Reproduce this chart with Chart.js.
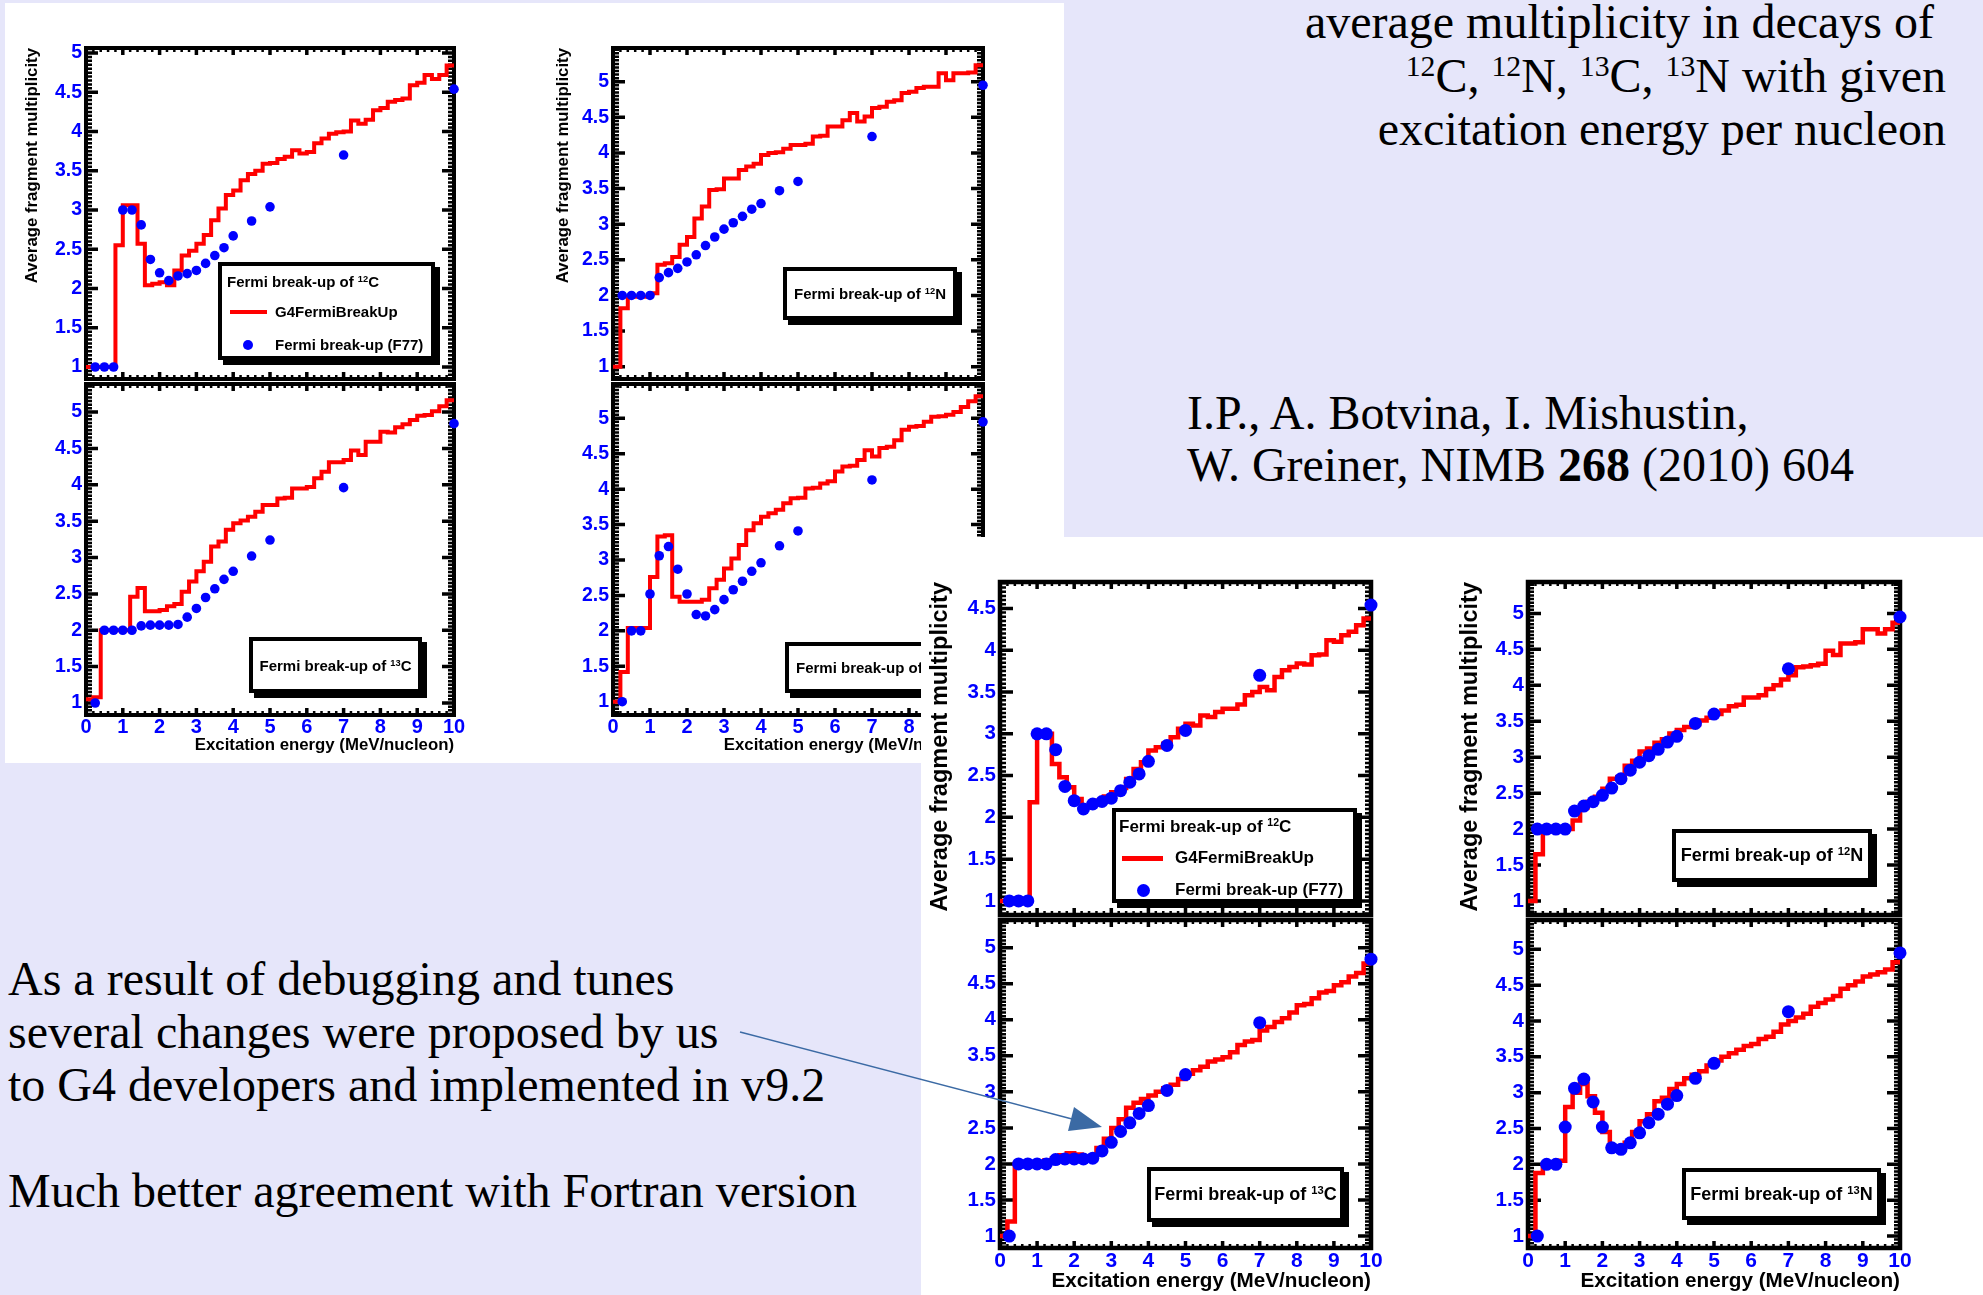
<!DOCTYPE html>
<html>
<head>
<meta charset="utf-8">
<title>Fermi break-up multiplicities</title>
<script src="https://cdn.jsdelivr.net/npm/chart.js@4.4.1/dist/chart.umd.min.js"></script>
<style>
  html, body { margin: 0; padding: 0; }
  body {
    width: 1983px; height: 1295px; overflow: hidden; position: relative;
    background: #e6e6fa; color: #000;
    font-family: 'Liberation Serif', 'Times New Roman', serif;
  }
  .sheet { position: absolute; background: #fff; }
  .sheet canvas { position: absolute; }
  .slide-text { position: absolute; font-size: 48px; white-space: nowrap; }
  .slide-text sup { font-size: 0.62em; vertical-align: 0.55em; line-height: 0; }
  .pave {
    position: absolute; box-sizing: border-box; background: #fff;
    border: 4px solid #000; box-shadow: 5px 5px 0 #000;
    font-family: 'Liberation Sans', Arial, Helvetica, sans-serif; font-weight: bold;
    white-space: nowrap;
  }
  .pave.label { display: flex; align-items: center; justify-content: center; }
  .pave sup { font-size: 0.62em; vertical-align: 0.55em; line-height: 0; }
  .pave .row { position: absolute; }
  .key-line { position: absolute; background: #ff0000; }
  .key-dot { position: absolute; background: #0000ff; border-radius: 50%; }
  #arrow { position: absolute; left: 0; top: 0; pointer-events: none; }
</style>
</head>
<body>

<div class="slide-text" style="right:37px;top:-5px;line-height:53.5px;text-align:right">
  average multiplicity in decays of&nbsp;<br>
  <sup>12</sup>C, <sup>12</sup>N, <sup>13</sup>C, <sup>13</sup>N with given<br>
  excitation energy per nucleon
</div>

<div class="slide-text" style="left:1187px;top:387px;line-height:52px">
  I.P., A. Botvina, I. Mishustin,<br>
  W. Greiner, NIMB <b>268</b> (2010) 604
</div>

<div class="slide-text" style="left:8px;top:952px;line-height:53px">
  As a result of debugging and tunes<br>
  several changes were proposed by us<br>
  to G4 developers and implemented in v9.2<br>
  <br>
  Much better agreement with Fortran version
</div>

<!-- first version of G4FermiBreakUp -->
<div class="sheet" id="sheetA" style="left:5px;top:3px;width:1059px;height:760px">
  <canvas id="old_c12"></canvas>
  <canvas id="old_c13"></canvas>
  <canvas id="old_n12"></canvas>
  <canvas id="old_n13"></canvas>

  <div class="pave" style="left:213px;top:259px;width:217px;height:98px;font-size:15px">
    <div class="row" style="left:5px;top:7px;line-height:18px">Fermi break-up of <sup>12</sup>C</div>
    <div class="key-line" style="left:8px;top:44px;width:37px;height:4px"></div>
    <div class="row" style="left:53px;top:37px;line-height:18px">G4FermiBreakUp</div>
    <div class="key-dot" style="left:21px;top:74px;width:10px;height:10px"></div>
    <div class="row" style="left:53px;top:70px;line-height:18px">Fermi break-up (F77)</div>
  </div>
  <div class="pave label" style="left:244px;top:634px;width:173px;height:56px;font-size:15px"><span>Fermi break-up of <sup>13</sup>C</span></div>
  <div class="pave label" style="left:778px;top:264px;width:174px;height:53px;font-size:15px"><span>Fermi break-up of <sup>12</sup>N</span></div>
  <div class="pave label" style="left:780px;top:639px;width:174px;height:51px;font-size:15px"><span>Fermi break-up of <sup>13</sup>N</span></div>
</div>

<!-- tuned version (v9.2) -->
<div class="sheet" id="sheetB" style="left:921px;top:537px;width:1062px;height:758px">
  <canvas id="new_c12"></canvas>
  <canvas id="new_c13"></canvas>
  <canvas id="new_n12"></canvas>
  <canvas id="new_n13"></canvas>

  <div class="pave" style="left:191px;top:271px;width:245px;height:95px;font-size:17px">
    <div class="row" style="left:3px;top:4px;line-height:22px">Fermi break-up of <sup>12</sup>C</div>
    <div class="key-line" style="left:6px;top:43.5px;width:41px;height:5px"></div>
    <div class="row" style="left:59px;top:35px;line-height:22px">G4FermiBreakUp</div>
    <div class="key-dot" style="left:20.5px;top:71.5px;width:13px;height:13px"></div>
    <div class="row" style="left:59px;top:67px;line-height:22px">Fermi break-up (F77)</div>
  </div>
  <div class="pave label" style="left:226px;top:630px;width:197px;height:55px;font-size:18px"><span>Fermi break-up of <sup>13</sup>C</span></div>
  <div class="pave label" style="left:751px;top:292px;width:200px;height:53px;font-size:18px"><span>Fermi break-up of <sup>12</sup>N</span></div>
  <div class="pave label" style="left:761px;top:631px;width:199px;height:52px;font-size:18px"><span>Fermi break-up of <sup>13</sup>N</span></div>
</div>

<svg id="arrow" width="1983" height="1295">
  <line x1="740" y1="1032" x2="1072" y2="1119" stroke="#3b6aa4" stroke-width="1.5"/>
  <polygon points="1102,1127 1074,1107 1068,1131" fill="#3b6aa4"/>
</svg>

<script>
// histogram bin edges, MeV/nucleon
const binEdges = [0, 0.2, 0.4, 0.6, 0.8, 1, 1.2, 1.4, 1.6, 1.8, 2, 2.2, 2.4, 2.6, 2.8, 3, 3.2, 3.4, 3.6, 3.8,
  4, 4.2, 4.4, 4.6, 4.8, 5, 5.2, 5.4, 5.6, 5.8, 6, 6.2, 6.4, 6.6, 6.8, 7, 7.2, 7.4, 7.6, 7.8,
  8, 8.2, 8.4, 8.6, 8.8, 9, 9.2, 9.4, 9.6, 9.8, 10];

// G4FermiBreakUp before the fixes
const g4old_C12 = [1.0, 1.0, 1.0, 1.0, 2.55, 3.06, 3.06, 2.57, 2.04, 2.06, 2.08, 2.04, 2.23, 2.42, 2.48,
  2.57, 2.68, 2.87, 3.02, 3.19, 3.25, 3.38, 3.46, 3.5, 3.59, 3.6, 3.65, 3.68, 3.76, 3.72,
  3.74, 3.85, 3.91, 3.97, 3.99, 4.0, 4.14, 4.1, 4.15, 4.27, 4.3, 4.38, 4.4, 4.42, 4.59,
  4.62, 4.72, 4.67, 4.72, 4.84];
const g4old_C13 = [1.05, 1.08, 2.0, 2.0, 2.0, 2.0, 2.46, 2.58, 2.26, 2.26, 2.28, 2.33, 2.36, 2.53, 2.67,
  2.81, 2.94, 3.15, 3.22, 3.38, 3.47, 3.51, 3.56, 3.63, 3.72, 3.72, 3.81, 3.82, 3.95, 3.95,
  3.97, 4.09, 4.18, 4.31, 4.31, 4.34, 4.47, 4.41, 4.59, 4.59, 4.73, 4.72, 4.79, 4.83, 4.89,
  4.95, 4.96, 5.01, 5.08, 5.16];
const g4old_N12 = [1.0, 1.82, 1.98, 1.98, 1.98, 2.03, 2.43, 2.45, 2.54, 2.71, 2.82, 3.08, 3.25, 3.48, 3.49,
  3.64, 3.64, 3.76, 3.81, 3.85, 3.97, 4.0, 4.01, 4.06, 4.11, 4.11, 4.13, 4.23, 4.24, 4.37,
  4.37, 4.46, 4.56, 4.44, 4.51, 4.63, 4.65, 4.72, 4.74, 4.84, 4.86, 4.91, 4.93, 4.93, 5.12,
  5.02, 5.12, 5.12, 5.13, 5.23];
const g4old_N13 = [1.0, 1.42, 2.04, 2.04, 2.04, 2.76, 3.33, 3.35, 2.48, 2.41, 2.41, 2.41, 2.44, 2.6, 2.72,
  2.88, 3.02, 3.21, 3.42, 3.52, 3.61, 3.66, 3.71, 3.8, 3.87, 3.88, 4.01, 4.02, 4.08, 4.11,
  4.25, 4.32, 4.33, 4.41, 4.55, 4.46, 4.58, 4.6, 4.69, 4.84, 4.88, 4.89, 4.95, 5.02, 5.03,
  5.05, 5.09, 5.16, 5.24, 5.31];

// G4FermiBreakUp after the fixes (v9.2)
const g4new_C12 = [1.0, 1.0, 1.0, 1.0, 2.18, 3.0, 3.0, 2.64, 2.48, 2.36, 2.22, 2.12, 2.15, 2.2, 2.25,
  2.3, 2.35, 2.46, 2.58, 2.66, 2.8, 2.84, 2.88, 2.96, 3.06, 3.12, 3.1, 3.22, 3.2, 3.26,
  3.3, 3.3, 3.35, 3.46, 3.5, 3.56, 3.52, 3.68, 3.76, 3.8, 3.84, 3.83, 3.94, 3.95, 4.12,
  4.1, 4.18, 4.22, 4.3, 4.38];
const g4new_C13 = [1.0, 1.2, 2.0, 2.0, 2.0, 2.02, 2.05, 2.08, 2.12, 2.15, 2.13, 2.1, 2.1, 2.22, 2.35,
  2.5, 2.62, 2.78, 2.85, 2.9, 2.95, 3.0, 3.05, 3.1, 3.18, 3.25, 3.3, 3.35, 3.42, 3.45,
  3.48, 3.55, 3.65, 3.7, 3.72, 3.85, 3.9, 3.97, 4.02, 4.1, 4.2, 4.22, 4.3, 4.38, 4.4,
  4.48, 4.52, 4.6, 4.65, 4.78];
const g4new_N12 = [1.0, 1.65, 1.97, 2.0, 2.0, 2.0, 2.12, 2.3, 2.38, 2.45, 2.56, 2.7, 2.72, 2.88, 2.95,
  3.08, 3.12, 3.2, 3.25, 3.33, 3.38, 3.42, 3.46, 3.51, 3.55, 3.6, 3.65, 3.71, 3.73, 3.83,
  3.83, 3.86, 3.95, 4.0, 4.08, 4.14, 4.25, 4.26, 4.28, 4.3, 4.48, 4.42, 4.58, 4.58, 4.6,
  4.78, 4.78, 4.72, 4.78, 4.87];
const g4new_N13 = [1.0, 1.88, 1.98, 2.02, 2.05, 2.8, 3.0, 3.12, 2.95, 2.72, 2.45, 2.25, 2.22, 2.3, 2.45,
  2.6, 2.7, 2.88, 2.93, 3.05, 3.12, 3.2, 3.25, 3.3, 3.38, 3.45, 3.5, 3.55, 3.6, 3.65,
  3.68, 3.75, 3.78, 3.85, 3.95, 4.0, 4.05, 4.1, 4.2, 4.25, 4.3, 4.35, 4.45, 4.5, 4.55,
  4.62, 4.65, 4.68, 4.72, 4.82];

// Fortran (F77) code, same energies for all nuclei
const f77Energy = [0.25, 0.5, 0.75, 1, 1.25, 1.5, 1.75, 2, 2.25, 2.5, 2.75, 3, 3.25, 3.5, 3.75, 4, 4.5, 5, 7, 10];
const f77_C12 = [1, 1, 1, 3.0, 3.0, 2.81, 2.37, 2.2, 2.1, 2.16, 2.19, 2.23, 2.32, 2.42, 2.52, 2.67, 2.86, 3.04, 3.7, 4.54];
const f77_C13 = [1, 2, 2, 2, 2, 2.06, 2.07, 2.07, 2.07, 2.08, 2.18, 2.3, 2.45, 2.57, 2.7, 2.81, 3.02, 3.24, 3.96, 4.84];
const f77_N12 = [2, 2, 2, 2, 2.25, 2.32, 2.38, 2.47, 2.57, 2.7, 2.82, 2.93, 3.02, 3.11, 3.21, 3.29, 3.47, 3.6, 4.23, 4.95];
const f77_N13 = [1, 2, 2, 2.52, 3.06, 3.19, 2.87, 2.52, 2.23, 2.21, 2.3, 2.44, 2.58, 2.7, 2.84, 2.96, 3.2, 3.41, 4.13, 4.95];

const xTickLabels = [0, 1, 2, 3, 4, 5, 6, 7, 8, 9, 10];
const yTickLabels = [1, 1.5, 2, 2.5, 3, 3.5, 4, 4.5, 5];

Chart.defaults.font.family = "'Liberation Sans', Arial, Helvetica, sans-serif";

// ROOT style frame: thick box with inward ticks on all four sides
const rootFrame = {
  id: 'rootFrame',
  beforeDatasetsDraw(chart, args, o) {
    const {ctx, chartArea: a, scales: {x, y}} = chart;
    ctx.save();
    ctx.strokeStyle = '#000';
    for (let k = 0; k <= 50; k++) {
      const px = x.getPixelForValue(k / 5);
      const major = k % 5 === 0;
      const len = major ? o.xMajor : o.xMinor;
      ctx.lineWidth = major ? o.majorW : o.minorW;
      ctx.beginPath();
      ctx.moveTo(px, a.top); ctx.lineTo(px, a.top + len);
      ctx.moveTo(px, a.bottom); ctx.lineTo(px, a.bottom - len);
      ctx.stroke();
    }
    for (let k = Math.ceil(y.min * 20); k <= Math.floor(y.max * 20); k++) {
      const py = y.getPixelForValue(k / 20);
      const major = k % 10 === 0;
      const len = major ? o.yMajor : o.yMinor;
      ctx.lineWidth = major ? o.majorW : o.minorW;
      ctx.beginPath();
      ctx.moveTo(a.left, py); ctx.lineTo(a.left + len, py);
      ctx.moveTo(a.right, py); ctx.lineTo(a.right - len, py);
      ctx.stroke();
    }
    ctx.lineWidth = o.frame;
    ctx.strokeRect(a.left, a.top, a.right - a.left, a.bottom - a.top);
    ctx.restore();
  }
};

// padding around each frame is kept wider than half a tick label so the
// library never shrinks the plot area to make room for the end labels
const styleA = {origin: [5, 3], yAxisW: 72, padTop: 24, padRight: 22, padBottom: 24,
  frame: 4, lineW: 4, dotR: 4.8, yTickSize: 19.5, xTickSize: 20, yTitleSize: 16.8, xTitleSize: 16.8,
  yTickPad: 4, xTickPad: 0, yMajor: 12, yMinor: 6, xMajor: 7, xMinor: 4, majorW: 3.5, minorW: 2.5};
const styleB = {origin: [921, 537], yAxisW: 80, padTop: 24, padRight: 22, padBottom: 24,
  frame: 4.5, lineW: 4.5, dotR: 6.5, yTickSize: 20.5, xTickSize: 21, yTitleSize: 23.5, xTitleSize: 20.7,
  yTickPad: 4, xTickPad: 1, yMajor: 13, yMinor: 6, xMajor: 7, xMinor: 4, majorW: 3.5, minorW: 2.5};

function histPoints(values) {
  const pts = values.map((v, i) => ({x: binEdges[i], y: v}));
  pts.push({x: binEdges[values.length], y: values[values.length - 1]});
  return pts;
}

function dotPoints(values) {
  return values.map((v, i) => ({x: f77Energy[i], y: v}));
}

function drawPanel(p) {
  const st = p.style;
  const left = Math.floor(p.L - st.yAxisW);
  const top = Math.floor(p.T - st.padTop);
  const width = Math.ceil(p.R + st.padRight - left);
  const bottomEdge = p.xTitleY ? p.xTitleY + st.xTitleSize * 0.6 : p.B + st.padBottom;
  const height = Math.round(bottomEdge - top);
  const yAxisW = p.L - left;
  const padTop = p.T - top;
  const padRight = width - (p.R - left);
  const below = height - (p.B - top);

  const canvas = document.getElementById(p.id);
  canvas.width = width;
  canvas.height = height;
  canvas.style.left = (left - st.origin[0]) + 'px';
  canvas.style.top = (top - st.origin[1]) + 'px';

  const yTitleLH = st.yTitleSize * 1.2;

  new Chart(p.id, {
    type: 'scatter',
    data: {
      datasets: [{
        data: dotPoints(p.f77),
        order: 0,
        pointRadius: st.dotR,
        pointBackgroundColor: '#0000ff',
        pointBorderWidth: 0,
        clip: false
      }, {
        data: histPoints(p.hist),
        order: 1,
        showLine: true,
        stepped: 'before',
        borderColor: '#ff0000',
        borderWidth: st.lineW,
        borderJoinStyle: 'miter',
        pointRadius: 0
      }]
    },
    options: {
      responsive: false,
      animation: false,
      events: [],
      layout: {
        autoPadding: false,
        padding: {top: padTop, right: padRight, bottom: p.xTitleY ? 0 : below, left: 0}
      },
      plugins: {
        legend: {display: false},
        tooltip: {enabled: false},
        rootFrame: st
      },
      scales: {
        x: {
          type: 'linear', min: 0, max: 10,
          display: !!p.xTitleY,
          afterBuildTicks: s => { s.ticks = xTickLabels.map(v => ({value: v})); },
          afterFit: s => { s.height = p.xTitleY ? below : 0; },
          grid: {display: false, drawTicks: false},
          border: {display: false},
          ticks: {
            color: '#0000ff', padding: st.xTickPad, autoSkip: false, maxRotation: 0,
            font: {size: st.xTickSize, weight: 'bold'},
            callback: v => String(v)
          },
          title: {
            display: !!p.xTitleY, text: 'Excitation energy (MeV/nucleon)', align: 'end',
            color: '#000', padding: {top: 0, bottom: 0},
            font: {size: st.xTitleSize, weight: 'bold', lineHeight: 1.2}
          }
        },
        y: {
          type: 'linear', min: p.ymin, max: p.ymax,
          afterBuildTicks: s => {
            s.ticks = yTickLabels.filter(v => v >= s.min && v <= s.max).map(v => ({value: v}));
          },
          afterFit: s => { s.width = yAxisW; },
          grid: {display: false, drawTicks: false},
          border: {display: false},
          ticks: {
            color: '#0000ff', padding: st.yTickPad, autoSkip: false,
            font: {size: st.yTickSize, weight: 'bold'},
            callback: v => String(v)
          },
          title: {
            display: !!p.yTitleX, text: 'Average fragment multiplicity', align: 'end',
            color: '#000', padding: {top: p.yTitleX ? p.yTitleX - left - yTitleLH / 2 : 0, bottom: 0},
            font: {size: st.yTitleSize, weight: 'bold', lineHeight: 1.2}
          }
        }
      }
    },
    plugins: [rootFrame]
  });
}

const panels = [
  {id: 'old_c12', style: styleA, L: 86, T: 48, R: 454, B: 379, ymin: 0.847, ymax: 5.064, hist: g4old_C12, f77: f77_C12, yTitleX: 32},
  {id: 'old_c13', style: styleA, L: 86, T: 384, R: 454, B: 715, ymin: 0.835, ymax: 5.385, hist: g4old_C13, f77: f77_C13, xTitleY: 745},
  {id: 'old_n12', style: styleA, L: 613, T: 48, R: 983, B: 379, ymin: 0.827, ymax: 5.473, hist: g4old_N12, f77: f77_N12, yTitleX: 563},
  {id: 'old_n13', style: styleA, L: 613, T: 384, R: 983, B: 715, ymin: 0.812, ymax: 5.484, hist: g4old_N13, f77: f77_N13, xTitleY: 745},
  {id: 'new_c12', style: styleB, L: 1000, T: 582, R: 1371, B: 915, ymin: 0.832, ymax: 4.816, hist: g4new_C12, f77: f77_C12, yTitleX: 941},
  {id: 'new_c13', style: styleB, L: 1000, T: 920, R: 1371, B: 1248, ymin: 0.834, ymax: 5.384, hist: g4new_C13, f77: f77_C13, xTitleY: 1282},
  {id: 'new_n12', style: styleB, L: 1528, T: 582, R: 1900, B: 915, ymin: 0.805, ymax: 5.437, hist: g4new_N12, f77: f77_N12, yTitleX: 1471},
  {id: 'new_n13', style: styleB, L: 1528, T: 920, R: 1900, B: 1248, ymin: 0.833, ymax: 5.409, hist: g4new_N13, f77: f77_N13, xTitleY: 1282}
];

panels.forEach(drawPanel);
</script>
</body>
</html>
